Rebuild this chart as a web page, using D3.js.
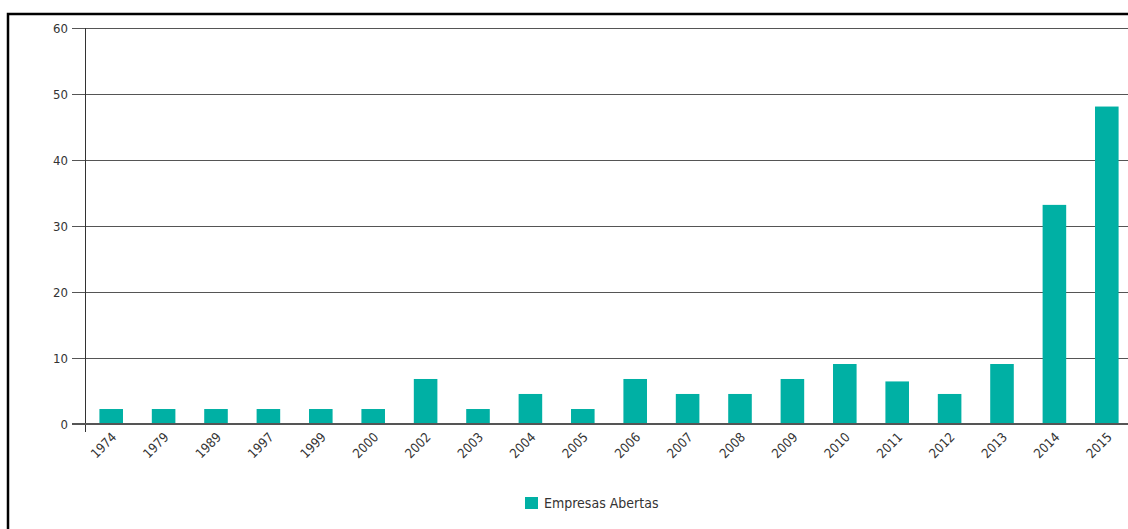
<!DOCTYPE html>
<head>
  <meta charset="utf-8">
  <script src="https://d3js.org/d3.v7.min.js"></script>
  <style>
    body { margin:0; background:#fff; }
    .grid line { stroke:#555; stroke-width:1px; }
    .axis text { fill:#333; font-family:"DejaVu Sans Condensed","DejaVu Sans",sans-serif; font-size:13px; }
  </style>
</head>
<body>
  <script>
    // Data
    var years = ["1974","1979","1989","1997","1999","2000","2002","2003","2004","2005",
                 "2006","2007","2008","2009","2010","2011","2012","2013","2014","2015"];
    var empresasAbertas = [2.27,2.27,2.27,2.27,2.27,2.27,6.82,2.27,4.55,2.27,
                           6.82,4.55,4.55,6.82,9.09,6.45,4.55,9.09,33.2,48.1];
    var yTicks = [0,10,20,30,40,50,60];
    var seriesName = "Empresas Abertas";

    var W = 1128, H = 529;
    var margin = {top: 28, left: 85, bottom: 105};
    var plotBottom = H - margin.bottom; // 424

    var svg = d3.select("body").append("svg")
        .attr("width", W)
        .attr("height", H);

    // outer frame
    svg.append("rect")
        .attr("x", 8).attr("y", 14)
        .attr("width", W + 20).attr("height", H + 20)
        .attr("fill", "none")
        .attr("stroke", "#000")
        .attr("stroke-width", 2.5);

    var x = d3.scaleBand()
        .domain(years)
        .range([margin.left, margin.left + 20 * 52.4])
        .paddingInner(0.55)
        .paddingOuter(0.275);

    var y = d3.scaleLinear()
        .domain([0, 60])
        .range([plotBottom, margin.top]);

    // gridlines + y labels
    var gy = svg.append("g")
        .attr("class", "axis grid")
        .attr("transform", "translate(" + margin.left + ",0)")
        .call(d3.axisLeft(y).tickValues(yTicks).tickSize(-(W - margin.left)).tickPadding(17));
    gy.select(".domain").remove();
    gy.selectAll(".tick line").attr("x1", -13);

    // y axis line
    svg.append("line")
        .attr("x1", margin.left + 0.5).attr("x2", margin.left + 0.5)
        .attr("y1", y(60)).attr("y2", plotBottom + 8)
        .attr("stroke", "#333").attr("stroke-width", 1);

    // bars
    svg.selectAll("rect.bar").data(empresasAbertas).enter()
      .append("rect")
        .attr("class", "bar")
        .attr("x", function(d, i) { return x(years[i]); })
        .attr("width", x.bandwidth())
        .attr("y", function(d) { return y(d); })
        .attr("height", function(d) { return plotBottom - y(d); })
        .attr("fill", "#00b0a4");

    // x axis baseline
    svg.append("line")
        .attr("x1", 72).attr("x2", W)
        .attr("y1", plotBottom).attr("y2", plotBottom)
        .attr("stroke", "#555").attr("stroke-width", 2);

    // x labels
    var gx = svg.append("g")
        .attr("class", "axis")
        .attr("transform", "translate(0," + plotBottom + ")")
        .call(d3.axisBottom(x).tickSize(0).tickPadding(0));
    gx.select(".domain").remove();
    gx.selectAll(".tick text")
        .attr("text-anchor", "end")
        .attr("dy", null)
        .attr("transform", "translate(6,14) rotate(-45)");

    // legend
    var legend = svg.append("g").attr("transform", "translate(525,497)");
    legend.append("rect")
        .attr("width", 13).attr("height", 12)
        .attr("fill", "#00b0a4");
    legend.append("text")
        .attr("x", 19).attr("y", 11)
        .style("font-family", "'DejaVu Sans Condensed','DejaVu Sans',sans-serif")
        .style("font-size", "14px")
        .style("fill", "#333")
        .text(seriesName);
  </script>
</body>
